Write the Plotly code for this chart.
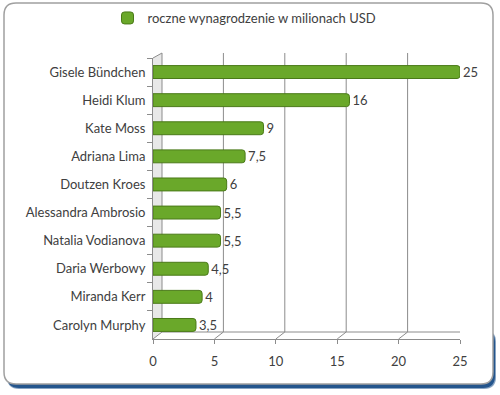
import plotly.graph_objects as go

# ---- data ----
models = ["Gisele Bündchen", "Heidi Klum", "Kate Moss", "Adriana Lima", "Doutzen Kroes",
          "Alessandra Ambrosio", "Natalia Vodianova", "Daria Werbowy", "Miranda Kerr", "Carolyn Murphy"]
earnings = [25, 16, 9, 7.5, 6, 5.5, 5.5, 4.5, 4, 3.5]
x_ticks = [0, 5, 10, 15, 20, 25]
series_name = "roczne wynagrodzenie w milionach USD"

# ---- layout geometry (pixels) ----
W, H = 500, 395
L, R, T, B = 153, 40, 58, 56
PW, PH = W - L - R, H - T - B
FONT = "Lato"
TXT = "#404040"
GRID = "#8c8c8c"


def px(x):
    return (x - L) / PW


def py(y):
    return (H - B - y) / PH


def rrect(x0, y0, x1, y1, r):
    pts = [("M", [(x0 + r, y0)]), ("L", [(x1 - r, y0)]), ("Q", [(x1, y0), (x1, y0 + r)]),
           ("L", [(x1, y1 - r)]), ("Q", [(x1, y1), (x1 - r, y1)]), ("L", [(x0 + r, y1)]),
           ("Q", [(x0, y1), (x0, y1 - r)]), ("L", [(x0, y0 + r)]), ("Q", [(x0, y0), (x0 + r, y0)])]
    s = ""
    for cmd, ps in pts:
        s += cmd + " " + " ".join(f"{px(a):.5f},{py(b):.5f}" for a, b in ps) + " "
    return s + "Z"


labels = [f"{v:g}".replace(".", ",") for v in earnings]

fig = go.Figure()
fig.add_trace(go.Bar(
    y=models, x=earnings, orientation="h", name=series_name,
    text=labels, textposition="outside", cliponaxis=False, constraintext="none",
    textfont=dict(family=FONT, size=13, color=TXT),
    width=0.46,
    marker=dict(color="#6aa82a", line=dict(color="#4a7a18", width=1), cornerradius=3),
))

shapes = []
# outer frame with shadow (shadow visible mainly along the bottom)
shapes.append(dict(type="path", xref="paper", yref="paper", path=rrect(7, 330, 496, 389, 12),
                   fillcolor="rgba(40,90,145,0.55)", line=dict(width=0), layer="below"))
shapes.append(dict(type="path", xref="paper", yref="paper", path=rrect(7, 330, 495, 388, 12),
                   fillcolor="#24558c", line=dict(width=0), layer="below"))
shapes.append(dict(type="path", xref="paper", yref="paper", path=rrect(4, 3, 493, 384, 12),
                   fillcolor="white", line=dict(color="#a0a0a0", width=1.5), layer="below"))

# 3D depth offset in data units
dx = 9 * 25 / PW
back_top, back_bot = py(53), py(332)
# left wall
shapes.append(dict(type="path", xref="x", yref="paper",
                   path=f"M 0,1 L {dx:.4f},{back_top:.4f} L {dx:.4f},{back_bot:.4f} L 0,0 Z",
                   fillcolor="rgba(190,190,190,0.35)", line=dict(width=0), layer="below"))
for v in x_ticks:
    shapes.append(dict(type="path", xref="x", yref="paper",
                       path=f"M {v},0 L {v + dx:.4f},{back_bot:.4f} L {v + dx:.4f},{back_top:.4f}",
                       line=dict(color=GRID, width=1), layer="below"))
shapes.append(dict(type="line", xref="x", yref="paper", x0=dx, x1=25 + dx, y0=back_bot, y1=back_bot,
                   line=dict(color=GRID, width=1), layer="below"))
shapes.append(dict(type="line", xref="x", yref="paper", x0=0, x1=dx, y0=1, y1=back_top,
                   line=dict(color=GRID, width=1), layer="below"))

fig.update_layout(
    width=W, height=H,
    margin=dict(l=L, r=R, t=T, b=B),
    paper_bgcolor="white", plot_bgcolor="rgba(0,0,0,0)",
    font=dict(family=FONT, size=13, color=TXT),
    shapes=shapes,
    showlegend=True,
    legend=dict(xref="container", yref="container", x=0.215, y=1 - 18 / H,
                xanchor="left", yanchor="middle", orientation="h",
                font=dict(family=FONT, size=13, color=TXT), bgcolor="rgba(0,0,0,0)"),
    xaxis=dict(range=[0, 25], tickvals=x_ticks, showgrid=False, zeroline=False,
               showline=True, linecolor=GRID, linewidth=1,
               ticks="outside", ticklen=4, tickcolor=GRID, ticklabelstandoff=6,
               tickfont=dict(family=FONT, size=13, color=TXT)),
    yaxis=dict(autorange="reversed", showgrid=False, showline=True, linecolor=GRID, linewidth=1,
               ticks="outside", tickson="boundaries", ticklen=5, tickcolor=GRID,
               ticklabelstandoff=4,
               tickfont=dict(family=FONT, size=13, color=TXT)),
)

fig.write_html("out.html", config={"displayModeBar": False},
               post_script="document.body.style.margin='0px';")
